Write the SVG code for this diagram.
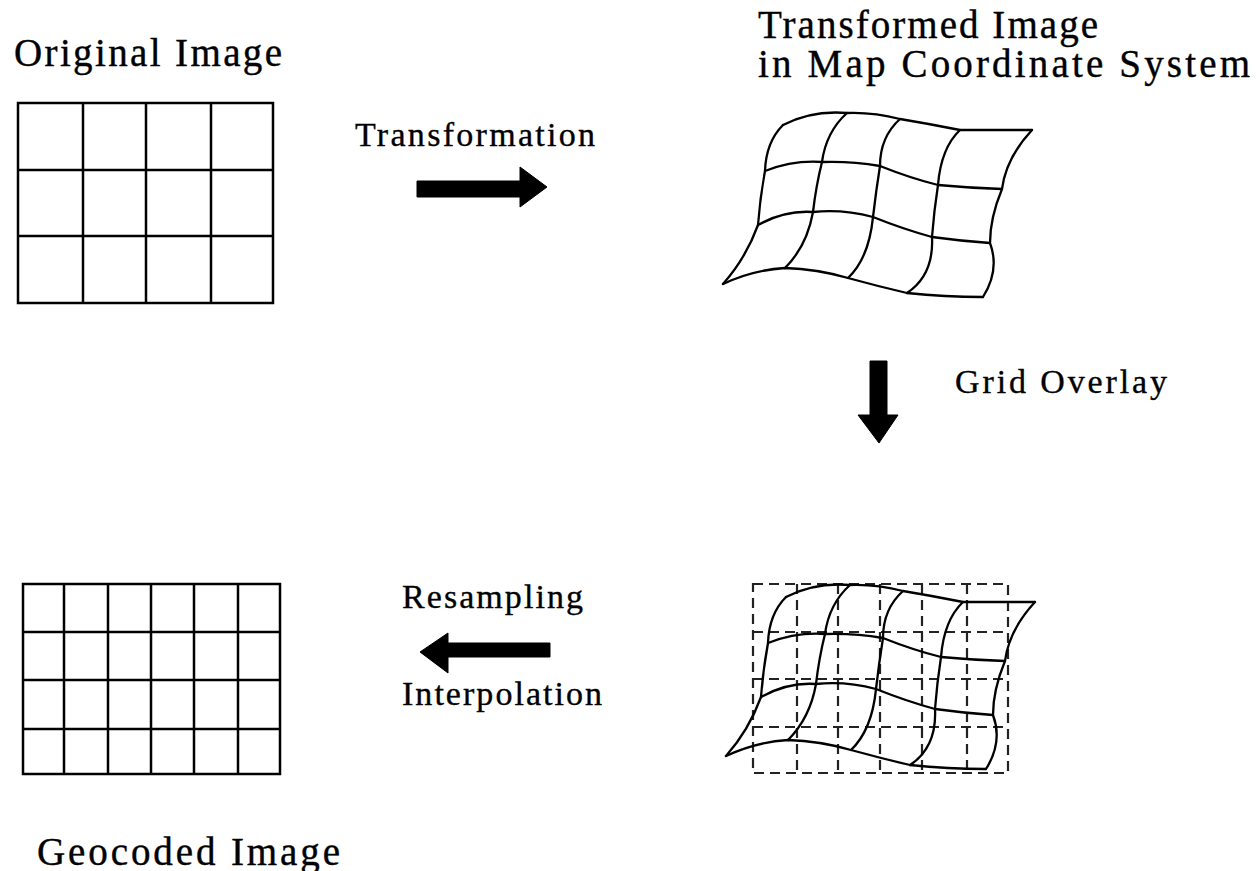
<svg xmlns="http://www.w3.org/2000/svg" xmlns:xlink="http://www.w3.org/1999/xlink" width="1256" height="871" viewBox="0 0 1256 871">
  <style>
    .title { font-family: "Liberation Serif", "Times New Roman", serif; font-size: 39px; fill: #000; stroke: #000; stroke-width: 0.4; }
    .label { font-family: "Liberation Serif", "Times New Roman", serif; font-size: 34px; fill: #000; stroke: #000; stroke-width: 0.35; }
    .grid { fill: none; stroke: #000; stroke-width: 2.5; stroke-linejoin: miter; }
    .warp { fill: none; stroke: #000; stroke-width: 2.3; stroke-linecap: round; stroke-linejoin: round; }
    .dash { fill: none; stroke: #222; stroke-width: 2.2; stroke-dasharray: 10 6; }
    .arrow { fill: #000; stroke: #000; stroke-width: 1; stroke-linejoin: round; }
  </style>
  <defs>
    <!-- distorted 4x3 mesh of the image after geometric transformation -->
    <g id="warp-grid" class="warp">
      <path d="M783,125 Q812,110 847,113 Q873,112 900,119 Q930,124 960,130 L1032,130"/>
      <path d="M765,171 Q793,160 822,162 Q851,161 880,166 Q910,178 938,185 Q970,188 1002,189"/>
      <path d="M758,225 Q785,210 813,212 Q843,209 873,217 Q903,229 932,237 Q961,241 990,243"/>
      <path d="M723,284 Q753,270 785,268 Q817,269 848,278 Q877,286 907,293 Q945,297 983,297"/>
      <path d="M783,125 Q766,142 765,171 Q760,198 758,225 Q746,258 723,284"/>
      <path d="M847,113 Q826,132 822,162 Q816,186 813,212 Q807,246 785,268"/>
      <path d="M900,119 Q880,137 880,166 Q876,191 873,217 Q869,258 848,278"/>
      <path d="M960,130 Q941,148 938,185 Q934,211 932,237 Q934,275 907,293"/>
      <path d="M1032,130 Q1006,158 1002,189 Q990,218 990,243 Q1000,270 983,297"/>
    </g>
  </defs>
  <rect width="1256" height="871" fill="#fff"/>

  <g id="original-image">
    <text class="title" x="14" y="66" textLength="268" lengthAdjust="spacing">Original  Image</text>
    <path class="grid" d="M18,103 H273 V303 H18 Z M83,103 V303 M146,103 V303 M211,103 V303 M18,170 H273 M18,236 H273"/>
  </g>

  <g id="transformed-image">
    <text class="title" x="758" y="38" textLength="340" lengthAdjust="spacing">Transformed  Image</text>
    <text class="title" x="758" y="77" textLength="492" lengthAdjust="spacing">in  Map  Coordinate  System</text>
    <use xlink:href="#warp-grid"/>
  </g>

  <g id="overlay-image">
    <path class="dash" d="M753,584 H1008 V773 H753 Z M797,584 V773 M838,584 V773 M880,584 V773 M922,584 V773 M967,584 V773 M753,632 H1008 M753,679 H1008 M753,727 H1008"/>
    <use xlink:href="#warp-grid" transform="translate(3,472)"/>
  </g>

  <g id="geocoded-image">
    <path class="grid" d="M23,584 H280 V774 H23 Z M64,584 V774 M108,584 V774 M151,584 V774 M194,584 V774 M238,584 V774 M23,632 H280 M23,680 H280 M23,729 H280"/>
    <text class="title" x="37" y="865" textLength="303" lengthAdjust="spacing">Geocoded  Image</text>
  </g>

  <g id="connectors">
    <g id="transformation">
      <polygon class="arrow" points="417,181 520,181 520,167 547,187 520,207 520,197 417,197"/>
      <text class="label" x="355" y="146" textLength="240" lengthAdjust="spacing">Transformation</text>
    </g>
    <g id="grid-overlay">
      <polygon class="arrow" points="870,361 887,361 887,415 898,415 879,443 858,415 870,415"/>
      <text class="label" x="955" y="393" textLength="212" lengthAdjust="spacing">Grid  Overlay</text>
    </g>
    <g id="resampling">
      <polygon class="arrow" points="550,643 448,643 448,633 420,652 448,673 448,657 550,657"/>
      <text class="label" x="402" y="608" textLength="181" lengthAdjust="spacing">Resampling</text>
      <text class="label" x="402" y="705" textLength="200" lengthAdjust="spacing">Interpolation</text>
    </g>
  </g>
</svg>
